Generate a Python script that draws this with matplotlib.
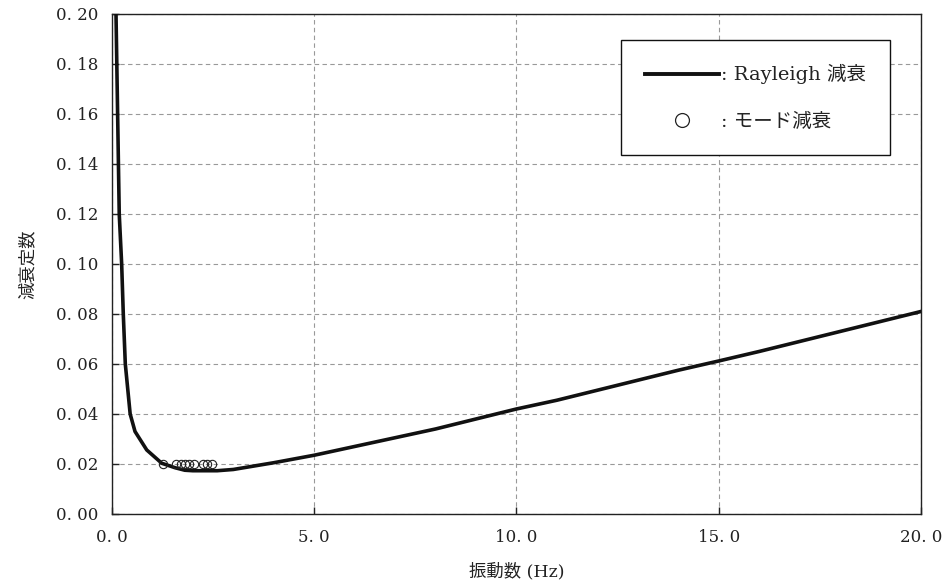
import matplotlib
matplotlib.use("Agg")
import matplotlib.pyplot as plt
from matplotlib.lines import Line2D

freq = [0.10, 0.14, 0.18, 0.24, 0.28, 0.33, 0.45, 0.57, 0.86, 1.23, 1.56, 1.80,
        2.00, 2.60, 3.00, 4.00, 5.00, 6.00, 7.00, 8.00, 9.00, 10.0, 11.0, 12.0,
        13.0, 14.0, 15.0, 16.0, 17.0, 18.0, 19.0, 20.0]
damp = [0.200, 0.160, 0.120, 0.100, 0.080, 0.060, 0.040, 0.033, 0.0256, 0.0203,
        0.0185, 0.0175, 0.0173, 0.0173, 0.0178, 0.0205, 0.0235, 0.0270, 0.0305,
        0.0340, 0.0380, 0.0420, 0.0455, 0.0495, 0.0535, 0.0575, 0.0612, 0.0650,
        0.0690, 0.0730, 0.0770, 0.0810]

mode_freq = [1.27, 1.58, 1.70, 1.80, 1.91, 2.03, 2.26, 2.36, 2.47]
mode_damp = [0.02] * len(mode_freq)

xticks = [0, 5, 10, 15, 20]
xticklabels = ["0. 0", "5. 0", "10. 0", "15. 0", "20. 0"]
yticks = [0.00, 0.02, 0.04, 0.06, 0.08, 0.10, 0.12, 0.14, 0.16, 0.18, 0.20]
yticklabels = ["0. 00", "0. 02", "0. 04", "0. 06", "0. 08", "0. 10",
               "0. 12", "0. 14", "0. 16", "0. 18", "0. 20"]

FAM = ["DejaVu Serif", "Noto Sans CJK JP"]
plt.rcParams["font.family"] = FAM

fig = plt.figure(figsize=(9.44, 5.88), dpi=100)
ax = fig.add_axes([0.1186, 0.1259, 0.8570, 0.8503])

ax.plot(freq, damp, color="#111111", lw=2.6, solid_joinstyle="round", zorder=3)
ax.plot(mode_freq, mode_damp, ls="none", marker="o", ms=6, mfc="none",
        mec="#222222", mew=0.8, zorder=4)

ax.set_xlim(0, 20)
ax.set_ylim(0, 0.20)
ax.set_xticks(xticks)
ax.set_xticklabels(xticklabels, fontsize=12, color="#222222")
ax.set_yticks(yticks)
ax.set_yticklabels(yticklabels, fontsize=12, color="#222222")
ax.tick_params(axis="y", direction="in", length=5, width=1, color="#222222", pad=10)
ax.tick_params(axis="x", direction="in", length=5, width=1, color="#222222", pad=11)
ax.grid(True, ls=(0, (4, 3)), color="#999999", lw=0.8)
for s in ax.spines.values():
    s.set_color("#222222")
    s.set_linewidth(1.0)

ax.set_xlabel("振動数 (Hz)", fontsize=12.5, labelpad=12, color="#222222")
ax.set_ylabel("減衰定数", fontsize=12.5, labelpad=14, color="#222222")

handles = [Line2D([], [], color="#111111", lw=2.8),
           Line2D([], [], ls="none", marker="o", ms=10, mfc="none", mec="#222222", mew=0.9)]
labels = [": Rayleigh 減衰", ": モード減衰"]
leg = ax.legend(handles, labels, loc="upper right", bbox_to_anchor=(0.962, 0.948),
                fontsize=14, frameon=True, fancybox=False, edgecolor="#111111",
                framealpha=1, borderpad=1.25, labelspacing=1.45, handlelength=3.8,
                handletextpad=0.1, borderaxespad=0)
leg.get_frame().set_linewidth(1.0)
for t in leg.get_texts():
    t.set_color("#222222")

fig.savefig("out.png", dpi=100)
